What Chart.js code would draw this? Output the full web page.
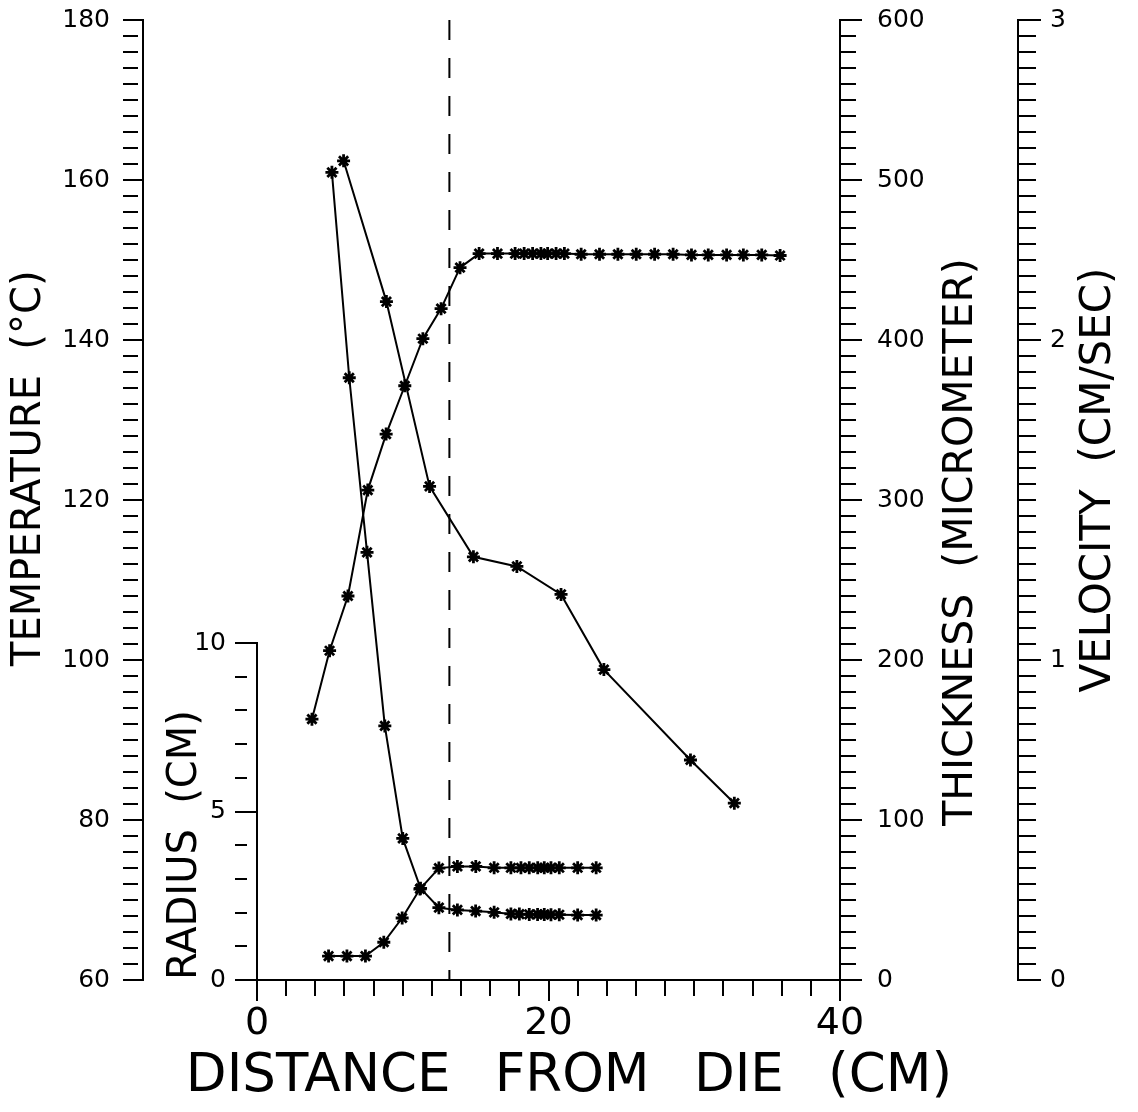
<!DOCTYPE html>
<html>
<head>
<meta charset="utf-8">
<script src="https://cdn.jsdelivr.net/npm/chart.js@4/dist/chart.umd.min.js"></script>
<style>
html,body{margin:0;padding:0;background:#fff;}
#wrap{width:1138px;height:1112px;position:relative;}
</style>
</head>
<body>
<div id="wrap"><canvas id="c"></canvas></div>
<script>
// ---- data ----
const distanceTemp = [5.94, 8.88, 11.84, 14.85, 17.83, 20.86, 23.8, 29.74, 32.75];
const temperature  = [162.4, 144.8, 121.7, 112.9, 111.7, 108.2, 98.8, 87.5, 82.1];

const distanceThick = [5.14, 6.33, 7.55, 8.77, 10.0, 11.22, 12.48, 13.75, 15.0, 16.27, 17.42, 18.0, 18.68, 19.25, 19.71, 20.17, 20.74, 22.0, 23.27];
const thickness     = [504.8, 376.4, 267.3, 158.8, 88.5, 57.3, 45.2, 43.8, 43.1, 42.3, 41.3, 41.2, 41.0, 41.0, 41.0, 40.8, 40.8, 40.6, 40.6];

const distanceRadius = [4.91, 6.17, 7.44, 8.7, 9.96, 11.18, 12.48, 13.75, 15.01, 16.27, 17.42, 18.11, 18.68, 19.26, 19.71, 20.17, 20.74, 22.0, 23.27];
const radius         = [0.71, 0.71, 0.71, 1.12, 1.84, 2.70, 3.32, 3.37, 3.37, 3.33, 3.33, 3.33, 3.33, 3.33, 3.33, 3.33, 3.33, 3.33, 3.33];

const distanceVel = [3.77, 4.98, 6.24, 7.6, 8.86, 10.14, 11.38, 12.63, 13.93, 15.24, 16.5, 17.71, 18.33, 18.91, 19.48, 19.94, 20.52, 21.09, 22.24, 23.5, 24.76, 26.02, 27.28, 28.55, 29.81, 30.96, 32.22, 33.37, 34.63, 35.89];
const velocity    = [0.815, 1.029, 1.2, 1.531, 1.706, 1.857, 2.004, 2.098, 2.226, 2.27, 2.27, 2.27, 2.27, 2.27, 2.27, 2.27, 2.27, 2.27, 2.268, 2.268, 2.268, 2.268, 2.268, 2.268, 2.266, 2.266, 2.266, 2.266, 2.266, 2.264];

const frostLineDistance = 13.2;

// axis ranges / tick steps / label steps
const xRange = [0, 40];      const xStep = 2;     const xLabelStep = 20;
const tempRange = [60, 180]; const tempStep = 2;  const tempLabelStep = 20;
const radiusRange = [0, 10]; const radiusStep = 1; const radiusLabelStep = 5;
const thickRange = [0, 600]; const thickStep = 10; const thickLabelStep = 100;
const velRange = [0, 3];     const velStep = 0.05; const velLabelStep = 1;

const xTitle = 'DISTANCE \u2009 FROM \u2009 DIE \u2009 (CM)';
const tempTitle = '     TEMPERATURE  (°C)';
const radiusTitle = 'RADIUS  (CM)';
const thickTitle = 'THICKNESS  (MICROMETER)';
const velTitle = 'VELOCITY  (CM/SEC)';

// ---- helpers ----
const FONT = 'DejaVu Sans';
const pts = (xs, ys) => xs.map((x, i) => ({x: x, y: ys[i]}));
const isMult = (v, m) => Math.abs(v / m - Math.round(v / m)) < 1e-6;
const labelCb = (m) => (v) => isMult(v, m) ? String(Math.round(v * 1000) / 1000) : '';
const gridFor = (m, tl, minorLen) => ({
  display: true, drawOnChartArea: false, drawTicks: true,
  tickLength: tl, tickWidth: 2, tickColor: '#000', lineWidth: 2, color: '#000',
  tickBorderDash: (c) => (c.tick && isMult(c.tick.value, m)) ? [] : [minorLen, 200]
});
const border = {display: true, color: '#000', width: 2};
const noPad = (s) => { s.paddingTop = 0; s.paddingBottom = 0; s.paddingLeft = 0; s.paddingRight = 0; };

const seriesStyle = {
  borderColor: '#000', backgroundColor: '#000', borderWidth: 2,
  pointStyle: 'star', pointRadius: 6.5, pointBorderWidth: 2.8,
  pointBorderColor: '#000', pointBackgroundColor: '#000',
  tension: 0, fill: false
};

// Right-side titles read bottom-to-top like the reference
const rightTitles = {
  id: 'rightTitles',
  afterDraw(chart) {
    const ctx = chart.ctx;
    const ca = chart.chartArea;
    const items = [
      {scale: chart.scales.yThick, text: thickTitle, dx: 121, cy: ca.top + 522, size: 41},
      {scale: chart.scales.yVel, text: velTitle, dx: 81, cy: ca.top + 460, size: 42}
    ];
    ctx.save();
    ctx.fillStyle = '#000';
    for (const it of items) {
      ctx.save();
      ctx.translate(it.scale.left + it.dx, it.cy);
      ctx.rotate(-Math.PI / 2);
      ctx.font = it.size + 'px "' + FONT + '"';
      ctx.textAlign = 'center';
      ctx.textBaseline = 'middle';
      ctx.fillText(it.text, 0, 0);
      ctx.restore();
    }
    ctx.restore();
  }
};

Chart.defaults.font.family = FONT;
Chart.defaults.color = '#000';

new Chart(document.getElementById('c'), {
  type: 'line',
  data: {
    datasets: [
      Object.assign({label: 'Temperature', yAxisID: 'yTemp', data: pts(distanceTemp, temperature)}, seriesStyle),
      Object.assign({label: 'Thickness', yAxisID: 'yThick', data: pts(distanceThick, thickness)}, seriesStyle),
      Object.assign({label: 'Radius', yAxisID: 'yRad', data: pts(distanceRadius, radius)}, seriesStyle),
      Object.assign({label: 'Velocity', yAxisID: 'yVel', data: pts(distanceVel, velocity)}, seriesStyle),
      {label: 'Frost line', yAxisID: 'yTemp',
       data: [{x: frostLineDistance, y: tempRange[1]}, {x: frostLineDistance, y: tempRange[0]}],
       borderColor: '#000', borderWidth: 2, borderDash: [20, 18], pointRadius: 0, fill: false}
    ]
  },
  options: {
    responsive: true,
    maintainAspectRatio: false,
    animation: false,
    layout: {padding: {top: 20, left: 0, right: 0, bottom: 0}},
    plugins: {
      legend: {display: false}, tooltip: {enabled: false},
      title: {display: true, position: 'bottom', text: xTitle, color: '#000',
              font: {size: 53, family: FONT, weight: 'normal', lineHeight: 1.2},
              padding: {top: 5, bottom: 3.4}}
    },
    scales: {
      x: {
        type: 'linear', position: 'bottom', min: xRange[0], max: xRange[1],
        border: border, grid: gridFor(xLabelStep, 21, 15),
        ticks: {stepSize: xStep, autoSkip: false, maxRotation: 0, padding: 0,
                font: {size: 38, family: FONT}, color: '#000', callback: labelCb(xLabelStep)},
        title: {display: false},
        afterFit: (s) => { s.height = 60; noPad(s); }
      },
      yTemp: {
        type: 'linear', position: 'left', weight: 10, min: tempRange[0], max: tempRange[1],
        border: border, grid: gridFor(tempLabelStep, 20, 15),
        ticks: {stepSize: tempStep, autoSkip: false, padding: 13,
                font: {size: 25, family: FONT}, color: '#000', callback: labelCb(tempLabelStep)},
        title: {display: true, text: tempTitle, color: '#000', font: {size: 40, family: FONT, lineHeight: 1.2},
                padding: {top: 6, bottom: 0}},
        afterFit: (s) => { s.width = 143; noPad(s); }
      },
      yRad: {
        type: 'linear', position: 'left', stack: 'rad', stackWeight: 337, min: radiusRange[0], max: radiusRange[1],
        border: border, grid: gridFor(radiusLabelStep, 22, 12),
        ticks: {stepSize: radiusStep, autoSkip: false, padding: 9,
                font: {size: 25, family: FONT}, color: '#000', callback: labelCb(radiusLabelStep)},
        title: {display: true, text: radiusTitle, align: 'start', color: '#000',
                font: {size: 40, family: FONT, lineHeight: 1.2}, padding: {top: 19, bottom: 0}},
        afterFit: (s) => { s.width = 114; noPad(s); }
      },
      yRadTop: {
        type: 'linear', position: 'left', stack: 'rad', stackWeight: 623, min: 0, max: 1,
        border: {display: false}, grid: {display: false}, ticks: {display: false}, title: {display: false},
        afterFit: (s) => { s.width = 114; noPad(s); }
      },
      yThick: {
        type: 'linear', position: 'right', weight: 0, min: thickRange[0], max: thickRange[1],
        border: border, grid: gridFor(thickLabelStep, 22, 15),
        ticks: {stepSize: thickStep, autoSkip: false, padding: 15,
                font: {size: 25, family: FONT}, color: '#000', callback: labelCb(thickLabelStep)},
        afterFit: (s) => { s.width = 178; noPad(s); }
      },
      yVel: {
        type: 'linear', position: 'right', weight: 1, min: velRange[0], max: velRange[1],
        border: border, grid: gridFor(velLabelStep, 23, 17),
        ticks: {stepSize: velStep, autoSkip: false, padding: 9,
                font: {size: 25, family: FONT}, color: '#000', callback: labelCb(velLabelStep)},
        afterFit: (s) => { s.width = 120; noPad(s); }
      }
    }
  },
  plugins: [rightTitles]
});
</script>
</body>
</html>
